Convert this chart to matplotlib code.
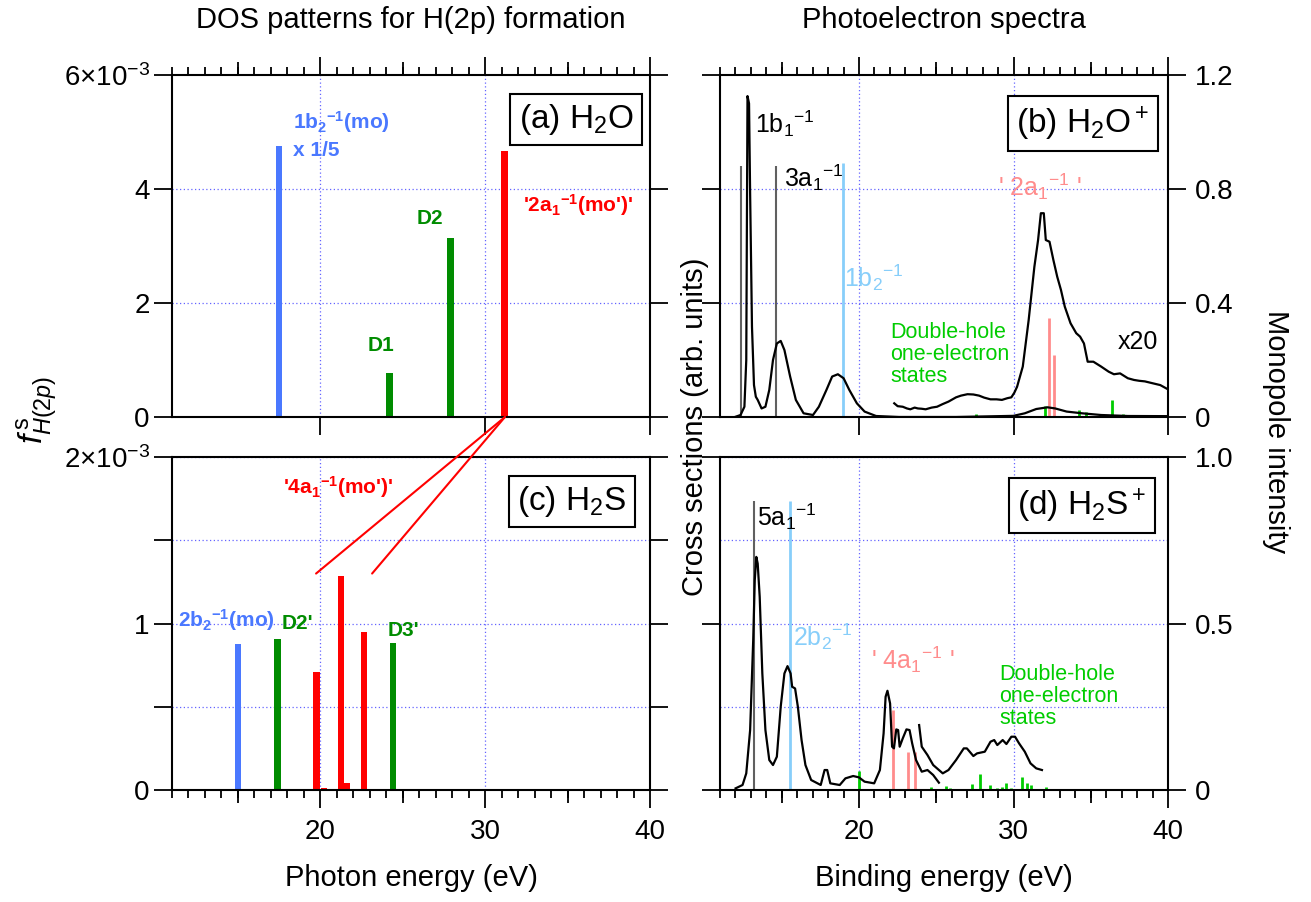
import matplotlib
matplotlib.use('Agg')
import matplotlib.pyplot as plt
from matplotlib.patches import ConnectionPatch
from matplotlib.ticker import MultipleLocator, FixedLocator, FixedFormatter, NullLocator

plt.rcParams['font.family'] = ['Liberation Sans', 'DejaVu Sans']
plt.rcParams['mathtext.fontset'] = 'custom'
plt.rcParams['mathtext.rm'] = 'Liberation Sans'
plt.rcParams['mathtext.it'] = 'Liberation Sans:italic'
plt.rcParams['mathtext.bf'] = 'Liberation Sans:bold'

# ---- (a) H2O : DOS for H(2p) formation ----
a_blue_x = [17.5]
a_blue_y = [4.75e-3]
a_green_x = [24.2, 27.9]
a_green_y = [0.77e-3, 3.14e-3]
a_red_x = [31.2]
a_red_y = [4.67e-3]

# ---- (c) H2S ----
c_blue_x = [15.0]
c_blue_y = [0.877e-3]
c_green_x = [17.4, 24.4]
c_green_y = [0.907e-3, 0.88e-3]
c_red_x = [19.76, 20.2, 21.27, 21.6, 22.67]
c_red_y = [0.71e-3, 0.012e-3, 1.285e-3, 0.04e-3, 0.95e-3]

# ---- (b) H2O+ photoelectron spectrum ----
b_E = [11.96, 12.33, 12.58, 12.70, 12.78, 12.88, 12.95, 13.07, 13.2, 13.32, 13.44,
       13.69, 13.94, 14.19, 14.43, 14.68, 14.93, 15.17, 15.54, 15.91, 16.41, 17.02,
       17.4, 17.89, 18.26, 18.63, 19.0, 19.37, 19.86, 20.36, 21.1, 22.58, 26.28,
       29.99, 30.73, 31.47, 32.2, 32.7, 33.44, 34.43, 35.67, 37.4, 39.9]
b_I = [0, 0.007, 0.036, 0.2, 1.126, 1.10, 0.785, 0.317, 0.112, 0.071, 0.06,
       0.03, 0.036, 0.095, 0.2, 0.258, 0.267, 0.235, 0.142, 0.06, 0.013, 0.007,
       0.036, 0.095, 0.142, 0.15, 0.136, 0.095, 0.048, 0.019, 0.0035, 0, 0,
       0.004, 0.013, 0.028, 0.034, 0.03, 0.019, 0.013, 0.007, 0.0035, 0.003]
b20_E = [22.28, 22.5, 22.83, 23.1, 23.32, 23.6, 23.81, 24.05, 24.31, 24.7, 25.05,
         25.4, 25.79, 26.28, 26.6, 27.02, 27.4, 27.77, 28.1, 28.51, 28.9, 29.25,
         29.6, 29.86, 30.05, 30.23, 30.6, 30.98, 31.35, 31.59, 31.77, 31.96,
         32.09, 32.33, 32.58, 32.83, 33.07, 33.32, 33.69, 34.06, 34.31, 34.56,
         34.8, 35.17, 35.67, 36.16, 36.5, 36.9, 37.4, 37.8, 38.14, 38.5, 38.88,
         39.5, 39.9]
b20_I = [0.048, 0.038, 0.036, 0.03, 0.027, 0.033, 0.03, 0.029, 0.027, 0.033, 0.036,
         0.045, 0.054, 0.069, 0.075, 0.080, 0.079, 0.075, 0.068, 0.062, 0.062, 0.06,
         0.066, 0.069, 0.085, 0.106, 0.177, 0.34, 0.527, 0.621, 0.715, 0.715,
         0.621, 0.615, 0.551, 0.492, 0.446, 0.387, 0.329, 0.294, 0.282, 0.258,
         0.194, 0.194, 0.177, 0.159, 0.15, 0.153, 0.136, 0.13, 0.127, 0.125, 0.12,
         0.112, 0.1]
b_gray_E = [12.38, 14.6]
b_gray_I = [0.88, 0.88]
b_blue_E = [18.93]
b_blue_I = [0.89]
b_red_E = [32.3, 32.62]
b_red_I = [0.349, 0.218]
b_green_E = [27.56, 32.01, 34.23, 34.7, 35.7, 36.37, 37.1, 37.75, 38.4]
b_green_I = [0.011, 0.04, 0.023, 0.017, 0.007, 0.06, 0.012, 0.008, 0.008]

# ---- (d) H2S+ photoelectron spectrum ----
d_E = [12.01, 12.46, 12.7, 12.95, 13.15, 13.25, 13.35, 13.44, 13.57, 13.74, 13.94,
       14.19, 14.43, 14.68, 14.93, 15.17, 15.37, 15.57, 15.67, 15.86, 16.04, 16.28,
       16.53, 16.9, 17.52, 17.77, 17.94, 18.14, 18.75, 19.12, 19.62, 19.99, 20.36,
       20.98, 21.35, 21.59, 21.72, 21.84, 22.01, 22.14, 22.26, 22.41, 22.53, 22.63,
       22.83, 23.07, 23.27, 23.44, 23.69, 24.06, 24.43, 24.8, 25.17]
d_I = [0.005, 0.015, 0.05, 0.18, 0.45, 0.63, 0.70, 0.68, 0.58, 0.35, 0.18,
       0.09, 0.075, 0.10, 0.25, 0.35, 0.372, 0.35, 0.31, 0.305, 0.25, 0.15,
       0.075, 0.03, 0.015, 0.06, 0.06, 0.02, 0.015, 0.035, 0.042, 0.038, 0.025,
       0.02, 0.06, 0.17, 0.28, 0.298, 0.26, 0.13, 0.125, 0.182, 0.18, 0.13,
       0.155, 0.182, 0.18, 0.14, 0.09, 0.055, 0.06, 0.045, 0.022]
d2_E = [23.89, 24.06, 24.43, 24.8, 25.42, 25.79, 26.28, 26.78, 26.98, 27.4, 27.64,
        28.14, 28.51, 28.75, 28.95, 29.3, 29.54, 29.86, 30.1, 30.36, 30.73, 31.1,
        31.47, 31.84]
d2_I = [0.195, 0.13, 0.105, 0.075, 0.05, 0.06, 0.09, 0.125, 0.125, 0.102, 0.11,
        0.115, 0.145, 0.15, 0.135, 0.15, 0.138, 0.16, 0.16, 0.14, 0.115, 0.08,
        0.065, 0.06]
d_gray_E = [13.17]
d_gray_I = [0.867]
d_blue_E = [15.54]
d_blue_I = [0.867]
d_red_E = [22.17, 23.15, 23.6]
d_red_I = [0.24, 0.115, 0.115]
d_green_E = [20.0, 24.0, 24.68, 25.6, 25.9, 26.2, 27.3, 27.8, 28.46, 28.9, 29.25,
             29.5, 29.85, 30.55, 30.85, 31.1, 32.1]
d_green_I = [0.058, 0.004, 0.008, 0.012, 0.006, 0.004, 0.018, 0.048, 0.016, 0.006,
             0.01, 0.022, 0.006, 0.038, 0.022, 0.015, 0.008]

BLUE = '#4a78ff'
GREEN = '#008c00'
RED = '#ff0000'
GRID = '#6464ff'

fig = plt.figure(figsize=(13.11, 9.02), dpi=100)
W, H = 1311.0, 902.0


def rect(l, r, t, b):
    return [l / W, 1 - b / H, (r - l) / W, (b - t) / H]


ax_a = fig.add_axes(rect(172, 650, 75, 417))
ax_c = fig.add_axes(rect(172, 650, 457, 790))
ax_b = fig.add_axes(rect(720, 1168, 75, 417))
ax_d = fig.add_axes(rect(720, 1168, 457, 790))


def style(ax, top_minor, bottom_minor, top_major, bottom_major, labelbottom):
    ax.set_xlim(11, 40)
    ax.xaxis.set_major_locator(FixedLocator([20, 30, 40]))
    ax.xaxis.set_minor_locator(MultipleLocator(1))
    ax.tick_params(axis='x', which='major', direction='out', length=13, width=1.3,
                   top=top_major, bottom=bottom_major, labelbottom=labelbottom,
                   labelsize=20, pad=8)
    ax.tick_params(axis='x', which='minor', direction='out', length=6, width=1.3,
                   top=top_minor, bottom=bottom_minor)
    ax.tick_params(axis='y', which='major', direction='out', length=13, width=1.3,
                   left=True, right=True, labelsize=20, pad=3)
    ax.yaxis.set_minor_locator(FixedLocator([]))
    for s in ax.spines.values():
        s.set_linewidth(1.5)
    for xv in [20, 30]:
        ax.axvline(xv, color=GRID, ls=(0, (1, 2)), lw=0.9, zorder=0)
    # medium ticks at 15, 25, 35 on the side carrying minor ticks
    side = 'top' if top_minor else 'bottom'
    sec = ax.secondary_xaxis(side)
    sec.xaxis.set_major_locator(FixedLocator([15, 25, 35]))
    sec.xaxis.set_minor_locator(NullLocator())
    sec.tick_params(axis='x', direction='out', length=9.5, width=1.3,
                    labeltop=False, labelbottom=False)
    for s in sec.spines.values():
        s.set_visible(False)


style(ax_a, True, False, True, True, False)
style(ax_c, False, True, False, True, True)
style(ax_b, True, False, True, True, False)
style(ax_d, False, True, False, True, True)

# ---- (a) ----
ax_a.set_ylim(0, 6e-3)
ax_a.yaxis.set_major_locator(FixedLocator([0, 2e-3, 4e-3, 6e-3]))
ax_a.yaxis.set_major_formatter(FixedFormatter(['0', '2', '4', '6×10$^{-3}$']))
for yv in [2e-3, 4e-3]:
    ax_a.axhline(yv, color=GRID, ls=(0, (1, 2)), lw=0.9, zorder=0)
ax_a.bar(a_blue_x, a_blue_y, width=0.38, color=BLUE)
ax_a.bar(a_green_x, a_green_y, width=0.38, color=GREEN)
ax_a.bar(a_red_x, a_red_y, width=0.42, color=RED)
ax_a.text(18.34, 5.18e-3, r'1b$_\mathbf{2}{}^\mathbf{-1}$(mo)', color=BLUE, fontsize=15,
          fontweight='bold', ha='left', va='center')
ax_a.text(18.34, 4.68e-3, 'x 1/5', color=BLUE, fontsize=15, fontweight='bold',
          ha='left', va='center')
ax_a.text(23.65, 1.26e-3, 'D1', color=GREEN, fontsize=15, fontweight='bold',
          ha='center', va='center')
ax_a.text(26.63, 3.49e-3, 'D2', color=GREEN, fontsize=15, fontweight='bold',
          ha='center', va='center')
ax_a.text(32.3, 3.72e-3, r"'2a$_\mathbf{1}{}^\mathbf{-1}$(mo')'", color=RED, fontsize=15,
          fontweight='bold', ha='left', va='center')
ax_a.text(0.845, 0.87, '(a) H$_2$O', transform=ax_a.transAxes, fontsize=24,
          ha='center', va='center',
          bbox=dict(boxstyle='square,pad=0.25', fc='white', ec='black', lw=1.5))

# ---- (c) ----
ax_c.set_ylim(0, 2e-3)
ax_c.yaxis.set_major_locator(FixedLocator([0, 0.5e-3, 1e-3, 1.5e-3, 2e-3]))
ax_c.yaxis.set_major_formatter(FixedFormatter(['0', '', '1', '', '2×10$^{-3}$']))
for yv in [0.5e-3, 1e-3, 1.5e-3, 2e-3]:
    ax_c.axhline(yv, color=GRID, ls=(0, (1, 2)), lw=0.9, zorder=0)
ax_c.bar(c_blue_x, c_blue_y, width=0.38, color=BLUE)
ax_c.bar(c_green_x, c_green_y, width=0.38, color=GREEN)
ax_c.bar(c_red_x, c_red_y, width=0.38, color=RED)
ax_c.text(17.74, 1.82e-3, r"'4a$_\mathbf{1}{}^\mathbf{-1}$(mo')'", color=RED, fontsize=15,
          fontweight='bold', ha='left', va='center')
ax_c.text(11.36, 1.02e-3, r'2b$_\mathbf{2}{}^\mathbf{-1}$(mo)', color=BLUE, fontsize=15,
          fontweight='bold', ha='left', va='center')
ax_c.text(17.67, 1.0e-3, "D2'", color=GREEN, fontsize=15, fontweight='bold',
          ha='left', va='center')
ax_c.text(24.1, 0.96e-3, "D3'", color=GREEN, fontsize=15, fontweight='bold',
          ha='left', va='center')
ax_c.text(0.836, 0.866, '(c) H$_2$S', transform=ax_c.transAxes, fontsize=24,
          ha='center', va='center',
          bbox=dict(boxstyle='square,pad=0.25', fc='white', ec='black', lw=1.5))

# red connectors from (a) to (c)
for xe in [19.74, 23.14]:
    con = ConnectionPatch(xyA=(a_red_x[0], 0), coordsA=ax_a.transData,
                          xyB=(xe, 1.3e-3), coordsB=ax_c.transData,
                          color=RED, lw=1.5)
    fig.add_artist(con)

# ---- (b) ----
ax_b.set_ylim(0, 1.2)
ax_b.yaxis.set_major_locator(FixedLocator([0, 0.4, 0.8, 1.2]))
ax_b.yaxis.set_major_formatter(FixedFormatter(['0', '0.4', '0.8', '1.2']))
ax_b.tick_params(axis='y', labelleft=False, labelright=True, pad=6)
for yv in [0.4, 0.8]:
    ax_b.axhline(yv, color=GRID, ls=(0, (1, 2)), lw=0.9, zorder=0)
ax_b.vlines(b_gray_E, 0, b_gray_I, color='#606060', lw=1.5)
ax_b.vlines(b_blue_E, 0, b_blue_I, color='#87cefa', lw=2)
ax_b.vlines(b_red_E, 0, b_red_I, color='#ff8c8c', lw=2)
ax_b.vlines(b_green_E, 0, b_green_I, color='#00cc00', lw=2)
ax_b.plot(b_E, b_I, color='black', lw=1.6)
ax_b.plot(b20_E, b20_I, color='black', lw=1.6)
ax_b.text(13.26, 1.03, '1b$_1{}^{-1}$', fontsize=18, ha='left', va='center')
ax_b.text(15.13, 0.84, '3a$_1{}^{-1}$', fontsize=18, ha='left', va='center')
ax_b.text(19.0, 0.49, '1b$_2{}^{-1}$', fontsize=18, color='#87cefa', ha='left', va='center')
ax_b.text(29.0, 0.807, "' 2a$_1{}^{-1}$ '", fontsize=18, color='#ff8c8c', ha='left', va='center')
ax_b.text(22.03, 0.22, 'Double-hole\none-electron\nstates', fontsize=15.5,
          color='#00cc00', ha='left', va='center', linespacing=1.05)
ax_b.text(36.74, 0.263, 'x20', fontsize=18, ha='left', va='center')
ax_b.text(0.81, 0.857, '(b) H$_2$O$^+$', transform=ax_b.transAxes, fontsize=24,
          ha='center', va='center',
          bbox=dict(boxstyle='square,pad=0.25', fc='white', ec='black', lw=1.5))

# ---- (d) ----
ax_d.set_ylim(0, 1.0)
ax_d.yaxis.set_major_locator(FixedLocator([0, 0.5, 1.0]))
ax_d.yaxis.set_major_formatter(FixedFormatter(['0', '0.5', '1.0']))
ax_d.tick_params(axis='y', labelleft=False, labelright=True, pad=6)
for yv in [0.25, 0.5, 0.75, 1.0]:
    ax_d.axhline(yv, color=GRID, ls=(0, (1, 2)), lw=0.9, zorder=0)
ax_d.vlines(d_gray_E, 0, d_gray_I, color='#606060', lw=1.5)
ax_d.vlines(d_blue_E, 0, d_blue_I, color='#87cefa', lw=2)
ax_d.vlines(d_red_E, 0, d_red_I, color='#ff8c8c', lw=2)
ax_d.vlines(d_green_E, 0, d_green_I, color='#00cc00', lw=2)
ax_d.plot(d_E, d_I, color='black', lw=1.6)
ax_d.plot(d2_E, d2_I, color='black', lw=1.6)
ax_d.text(13.39, 0.82, '5a$_1{}^{-1}$', fontsize=18, ha='left', va='center')
ax_d.text(15.71, 0.46, '2b$_2{}^{-1}$', fontsize=18, color='#87cefa', ha='left', va='center')
ax_d.text(20.8, 0.39, "' 4a$_1{}^{-1}$ '", fontsize=18, color='#ff8c8c', ha='left', va='center')
ax_d.text(29.06, 0.28, 'Double-hole\none-electron\nstates', fontsize=15.5,
          color='#00cc00', ha='left', va='center', linespacing=1.05)
ax_d.text(0.807, 0.853, '(d) H$_2$S$^+$', transform=ax_d.transAxes, fontsize=24,
          ha='center', va='center',
          bbox=dict(boxstyle='square,pad=0.25', fc='white', ec='black', lw=1.5))

# ---- titles and axis labels ----
fig.text(411 / W, 1 - 20 / H, 'DOS patterns for H(2p) formation', fontsize=21,
         ha='center', va='center')
fig.text(944 / W, 1 - 20 / H, 'Photoelectron spectra', fontsize=21,
         ha='center', va='center')
fig.text(411 / W, 1 - 878 / H, 'Photon energy (eV)', fontsize=21,
         ha='center', va='center')
fig.text(944 / W, 1 - 878 / H, 'Binding energy (eV)', fontsize=21,
         ha='center', va='center')
fig.text(38 / W, 1 - 410 / H, r'$\mathit{f}^{\,\mathrm{s}}_{\mathit{H(2p)}}$',
         fontsize=24, rotation=90, ha='center', va='center')
fig.text(695 / W, 1 - 427 / H, 'Cross sections (arb. units)', fontsize=21,
         rotation=90, ha='center', va='center')
fig.text(1276 / W, 1 - 432 / H, 'Monopole intensity', fontsize=21,
         rotation=270, ha='center', va='center')

fig.savefig('out.png', dpi=100)
